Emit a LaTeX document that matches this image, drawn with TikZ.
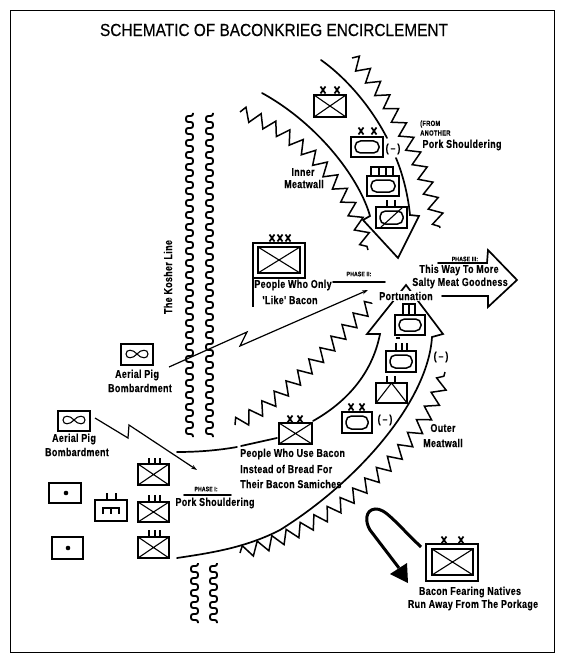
\documentclass[tikz,border=0pt]{standalone}
\usepackage{fontspec}
\usetikzlibrary{decorations.pathmorphing,arrows.meta}
\newfontfamily\narf[FakeStretch=0.88,FakeBold=0.4]{Liberation Sans}
\newfontfamily\narb[FakeStretch=0.78,LetterSpace=3,FakeBold=0.3]{Liberation Sans Bold}
\newcommand{\ubox}[4]{\draw[symb] (#1,#2) rectangle (#3,#4);}
\newcommand{\ucross}[4]{\draw[thin symb] (#1,#2) -- (#3,#4) (#1,#4) -- (#3,#2);}
\newcommand{\uoval}[4]{\draw[symb,rounded corners=5.5pt] (#1+4,#2+4) rectangle (#3-4,#4-4);}
\newcommand{\xmk}[2]{\draw[symb,line width=1.7pt] (#1-2.5,#2-3.5) -- (#1+2.5,#2+3.5) (#1+2.5,#2-3.5) -- (#1-2.5,#2+3.5);}
\newcommand{\tick}[3]{\draw[thin symb] (#1,#2) -- (#1,#3);}
\newcommand{\infin}[2]{\draw[thin symb] (#1,#2) .. controls (#1-4,#2-5) and (#1-11,#2-5) .. (#1-11,#2) .. controls (#1-11,#2+5) and (#1-4,#2+5) .. (#1,#2) .. controls (#1+4,#2-5) and (#1+11,#2-5) .. (#1+11,#2) .. controls (#1+11,#2+5) and (#1+4,#2+5) .. (#1,#2);}
% serpentine wire: x of start, y of start, number of periods
\newcommand{\wire}[3]{\draw[kosher] (#1+3,#2) -- ++(0,3) -- ++(-7,0) foreach \i in {1,...,#3} { -- ++(0,6) -- ++(7,0) -- ++(0,6) -- ++(-7,0) } -- ++(0,6) -- ++(7,0) -- ++(0,3);}
\tikzset{
  symb/.style={draw=black,line width=1.5pt,line join=miter},
  thin symb/.style={draw=black,line width=1.1pt},
  arc line/.style={draw=black,line width=1.7pt,line cap=round,line join=miter},
  saw/.style={draw=black,line width=1.5pt,line join=miter,decorate,decoration={zigzag,segment length=16pt,amplitude=6.5pt}},
  kosher/.style={draw=black,line width=1.9pt,rounded corners=2.2pt},
  bolt/.style={draw=black,line width=1.2pt,line join=miter},
  lbl/.style={font=\narb\fontsize{11.4}{13}\selectfont,inner sep=0pt,text=black},
  phase/.style={font=\narb\fontsize{6.5}{7}\selectfont,inner sep=0pt,text=black},
  tiny lbl/.style={font=\narb\fontsize{7.5}{8}\selectfont,inner sep=0pt,text=black,anchor=west}
}
\begin{document}
\begin{tikzpicture}[x=1pt,y=-1pt]
\useasboundingbox (0,0) rectangle (561,663);
\fill[white] (0,0) rectangle (561,663);
\draw[black,line width=0.9pt] (10,10) rectangle (554,652);
\node[font=\narf\fontsize{17.5}{20}\selectfont,inner sep=0pt] (title) at (274,30) {SCHEMATIC OF BACONKRIEG ENCIRCLEMENT};
% Kosher line
\wire{190}{113}{26}
\wire{210}{113}{26}
\wire{195}{563}{4}
\wire{214}{563}{4}
% upper arrow
\draw[arc line] (321,60) .. controls (345,77) and (370,105) .. (387,138);
\draw[arc line] (396,158) .. controls (403,175) and (408,195) .. (410,215) -- (419,216) -- (398,258) -- (363,220) -- (370,216) .. controls (360,180) and (320,125) .. (262,93);
% zigzags
\draw[saw] (240,112) .. controls (290,130) and (345,170) .. (368,250);
\draw[saw] (352,58) .. controls (390,95) and (425,165) .. (440,228);
\draw[saw] (235,425) .. controls (285,400) and (325,350) .. (372,303);
\draw[saw] (240,553) .. controls (330,530) and (425,450) .. (445,372);
% central arrow and curves
\draw[arc line] (313,421) .. controls (345,403) and (372,375) .. (380,334) -- (367,334) -- (406,285) -- (443,334) -- (432,337) .. controls (428,400) and (360,480) .. (280,530) .. controls (245,548) and (210,553) .. (177,558);
\draw[arc line] (177,452) .. controls (200,452) and (220,450) .. (237,447);
\draw[arc line] (241,446) -- (277,438);
% exploitation arrow
\draw[arc line] (438,263) -- (487,263) -- (488,250) -- (517,280) -- (488,307) -- (488,296) -- (442,296);
% phase lines
\draw[arc line] (333,282) -- (385,282);
\draw[arc line] (184,495) -- (231,495);
% bolts
\coordinate (b1s) at (169,367); \coordinate (b1e) at (368,290);
\draw[bolt,-{Stealth[length=6pt,width=4pt]}] (b1s) -- (247,332) -- (240,346) -- (b1e);
\coordinate (b2s) at (95,418); \coordinate (b2e) at (197,470);
\draw[bolt,-{Stealth[length=6pt,width=4pt]}] (b2s) -- (128,438) -- (129,425) -- (b2e);
% retreat
\coordinate (rs) at (421,547); \coordinate (re) at (399,568);
\draw[black,line width=3pt] (rs) .. controls (395,522) and (385,508) .. (375,509) .. controls (365,510) and (365,522) .. (370,530) -- (re);
\fill[black] (390,574) -- (407,563) -- (408,583) -- cycle;
% units
\ubox{314}{95}{346}{117}\ucross{314}{95}{346}{117}\xmk{323}{90}\xmk{337}{90}
\ubox{351}{137}{383}{157}\uoval{351}{137}{383}{157}\xmk{361}{131}\xmk{374}{131}
\ubox{367}{176}{399}{196}\uoval{367}{176}{399}{196}
\draw[thin symb] (371,176) -- (371,167) -- (393,167) -- (393,176) (379,167) -- (379,176) (386,167) -- (386,176);
\ubox{376}{207}{407}{228}\uoval{376}{207}{407}{228}\draw[thin symb] (380,228) -- (403,207);
\tick{387}{200}{207}\tick{395}{200}{207}
\draw[symb,line width=1.7pt] (253,243) rectangle (305,278);
\draw[symb] (258,247) rectangle (300,273);\ucross{258}{247}{300}{273}
\xmk{272}{238}\xmk{280}{238}\xmk{288}{238}
\draw[symb] (253,278) -- (253,307);
\ubox{395}{315}{425}{335}\uoval{395}{315}{425}{335}
\draw[thin symb] (403,315) -- (403,304) -- (415,304) -- (415,315) (409,304) -- (409,315);
\draw[symb] (396,338) -- (400,338);
\ubox{386}{351}{416}{372}\uoval{386}{351}{416}{372}
\tick{396}{343}{351}\tick{402}{343}{351}\tick{407}{343}{351}
\ubox{376}{383}{407}{403}\draw[thin symb] (376,403) -- (391.5,383) -- (407,403);
\tick{387}{376}{383}\tick{395}{376}{383}
\ubox{342}{412}{372}{433}\uoval{342}{412}{372}{433}\xmk{351}{407}\xmk{362}{407}
\ubox{279}{423}{312}{444}\ucross{279}{423}{312}{444}\xmk{290}{419}\xmk{300}{419}
\ubox{121}{344}{153}{365}\infin{137}{354}
\ubox{58}{411}{90}{431}\infin{74}{420}
\ubox{138}{464}{169}{485}\ucross{138}{464}{169}{485}\tick{149}{458}{464}\tick{155}{458}{464}\tick{160}{458}{464}
\ubox{138}{502}{169}{522}\ucross{138}{502}{169}{522}\tick{149}{495}{502}\tick{155}{495}{502}\tick{160}{495}{502}
\ubox{138}{537}{169}{558}\ucross{138}{537}{169}{558}\tick{149}{530}{537}\tick{155}{530}{537}\tick{160}{530}{537}
\ubox{49}{483}{81}{503}\fill (66,493) circle (2.3pt);
\ubox{52}{537}{83}{559}\fill (68,548) circle (2.3pt);
\ubox{95}{500}{127}{521}\tick{107}{493}{500}\tick{116}{493}{500}
\draw[thin symb] (103,514) -- (103,508) -- (119,508) -- (119,514) (111,508) -- (111,514);
\draw[symb,line width=1.7pt] (426,544) rectangle (478,581);
\draw[symb] (432,549) rectangle (473,575);\ucross{432}{549}{473}{575}
\xmk{444}{540}\xmk{461}{540}
% labels
\node[tiny lbl] (from1) at (420,124) {(FROM};
\node[tiny lbl] (from2) at (420,133) {ANOTHER};
\node[lbl] (ps1) at (462,145) {Pork Shouldering};
\node[lbl] (inner) at (303,172) {Inner};
\node[lbl] (inner2) at (304,184) {Meatwall};
\node[lbl] at (393,149) (m1) {(\,–\,)};
\node[lbl] at (441,357) (m2) {(\,–\,)};
\node[lbl] at (385,420) (m3) {(\,–\,)};
\node[lbl] (only1) at (293,285) {People Who Only};
\node[lbl] (only2) at (290,300) {'Like' Bacon};
\node[phase] (ph2) at (359,274) {PHASE II:};
\node[lbl,fill=white,inner sep=1pt] (port) at (406,296) {Portunation};
\node[phase] (ph3) at (465,259) {PHASE III:};
\node[lbl] (way1) at (459,270) {This Way To More};
\node[lbl] (way2) at (460,283) {Salty Meat Goodness};
\node[lbl,rotate=90] (kl) at (168,277) {The Kosher Line};
\node[lbl] (a1) at (137,375) {Aerial Pig};
\node[lbl] (a2) at (140,388) {Bombardment};
\node[lbl] (a3) at (74,439) {Aerial Pig};
\node[lbl] (a4) at (77,452) {Bombardment};
\node[lbl] (outer1) at (443,428) {Outer};
\node[lbl] (outer2) at (443,443) {Meatwall};
\node[lbl,anchor=west] (pu1) at (240,454) {People Who Use Bacon};
\node[lbl,anchor=west] (pu2) at (240,469) {Instead of Bread For};
\node[lbl,anchor=west] (pu3) at (240,484) {Their Bacon Samiches};
\node[phase] (ph1) at (206,489) {PHASE I:};
\node[lbl] (ps2) at (215,503) {Pork Shouldering};
\node[lbl] (bf1) at (470,592) {Bacon Fearing Natives};
\node[lbl] (bf2) at (473,605) {Run Away From The Porkage};
\end{tikzpicture}
\end{document}
